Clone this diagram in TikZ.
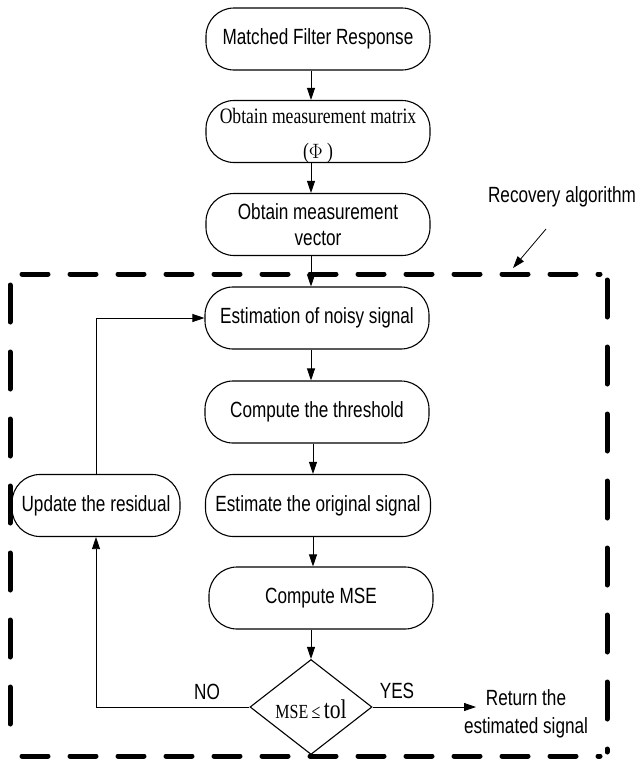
\documentclass[tikz,border=0pt]{standalone}
\usepackage{fontspec}
\newfontfamily\nsans[FakeStretch=0.78]{Liberation Sans}
\newfontfamily\nserif[FakeStretch=0.8]{Liberation Serif}
\usetikzlibrary{arrows.meta,shapes.geometric}
\begin{document}
\begin{tikzpicture}[x=1pt,y=-1pt,
  box/.style={draw,line width=1.1pt,rounded corners=28pt,minimum width=224pt,minimum height=62pt,inner sep=0pt,align=center,font=\nsans\fontsize{22}{26}\selectfont},
  conn/.style={line width=0.8pt,-{Triangle[length=12pt,width=8pt]}},
  lbl/.style={font=\nsans\fontsize{22}{28}\selectfont,align=center,inner sep=0pt},
  dashh/.style={line width=5pt,line cap=round,dash pattern=on 26pt off 22pt},
  dashv/.style={line width=5pt,line cap=round,dash pattern=on 37pt off 30pt}]
\useasboundingbox (0,0) rectangle (638,761);

% dashed frame
\draw[dashh] (22,274) -- (600,274);
\draw[dashh] (22,756) -- (600,756);
\draw[dashv] (10,285) -- (10,750);
\draw[dashv] (607,280) -- (607,752);

\node[box] (mf) at (318,39) {Matched Filter Response};
\node[box] (om) at (318,131.5) {};
\node[font=\nserif\fontsize{22}{35}\selectfont,align=center,inner sep=0pt] (omt) at (318,136) {Obtain measurement matrix\\($\Phi$ )};
\node[box] (ov) at (318,224.5) {Obtain measurement\\vector};
\node[box] (en) at (317,318) {Estimation of noisy signal};
\node[box] (ct) at (317,412) {Compute the threshold};
\node[box,minimum width=225pt] (eo) at (318,505.5) {Estimate the original signal};
\node[box] (cm) at (321,598) {Compute MSE};
\node[box,minimum width=168pt] (ur) at (96,505.5) {Update the residual};
\node[diamond,draw,line width=1.1pt,minimum width=122pt,minimum height=95pt,inner sep=0pt] (dm) at (311,707) {};
\node[font=\nserif,inner sep=0pt] (dmt) at (311,709) {\fontsize{20}{20}\selectfont MSE\,≤\,\fontsize{27}{27}\selectfont tol};

\draw[conn] ([xshift=-7pt]mf.south) -- ([xshift=-7pt]om.north);
\draw[conn] ([xshift=-7pt]om.south) -- ([xshift=-7pt]ov.north);
\draw[conn] ([xshift=-7pt]ov.south) -- ([xshift=-6pt]en.north);
\draw[conn] ([xshift=-6pt]en.south) -- ([xshift=-6pt]ct.north);
\draw[conn] ([xshift=-4pt]ct.south) -- ([xshift=-5pt]eo.north);
\draw[conn] ([xshift=-5pt]eo.south) -- ([xshift=-8pt]cm.north);
\draw[conn] (cm.south -| dm.north) -- (dm.north);

\coordinate (nocorner) at (96,707);
\draw[conn] (dm.west) -- (nocorner) -- (ur.south);
\draw[conn] (ur.north) |- (en.west);

\coordinate (yesend) at (476,707);
\draw[conn] (dm.east) -- (yesend);

\node[lbl] (no) at (207,692) {NO};
\node[lbl] (yes) at (397,691) {YES};
\node[lbl] (ret) at (526,714) {Return the\\estimated signal};

\node[lbl] (rec) at (562,197) {Recovery algorithm};
\coordinate (recs) at (546,229);
\coordinate (rece) at (513,268);
\draw[conn] (recs) -- (rece);
\end{tikzpicture}
\end{document}
